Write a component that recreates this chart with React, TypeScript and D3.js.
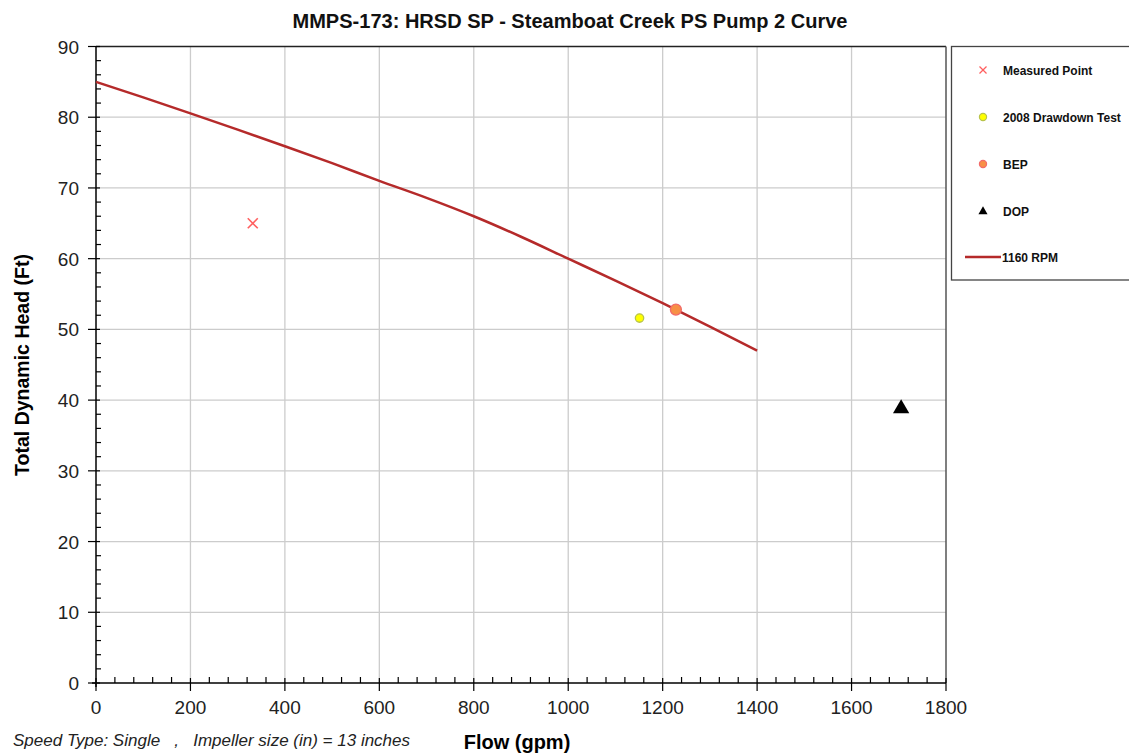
import React from "react";
import * as d3 from "d3";

const curveFlow = [0, 100, 200, 300, 400, 500, 600, 700, 800, 900, 1000, 1100, 1200, 1300, 1400];
const curveHead = [85, 82.8, 80.55, 78.25, 75.9, 73.5, 71.0, 68.6, 66.0, 63.1, 60.0, 56.9, 53.7, 50.4, 47.0];
const measuredPoint = [{ flow: 332, head: 65.0 }];
const drawdownTest = [{ flow: 1151, head: 51.6 }];
const bep = [{ flow: 1228, head: 52.8 }];
const dop = [{ flow: 1705, head: 38.8 }];
const xTicks = [0, 200, 400, 600, 800, 1000, 1200, 1400, 1600, 1800];
const yTicks = [0, 10, 20, 30, 40, 50, 60, 70, 80, 90];
const legendLabels = ["Measured Point", "2008 Drawdown Test", "BEP", "DOP", "1160 RPM"];

const W = 1129;
const H = 755;
const L = 96, R = 946, T = 46.5, B = 683;

export default function App() {
  const x = d3.scaleLinear().domain([0, 1800]).range([L, R]);
  const y = d3.scaleLinear().domain([0, 90]).range([B, T]);
  const xMinor = d3.range(0, 1801, 40).filter((v) => v % 200 !== 0);
  const yMinor = d3.range(0, 91, 2).filter((v) => v % 10 !== 0);
  const line = d3
    .line<number>()
    .x((_, i) => x(curveFlow[i]))
    .y((d) => y(d))
    .curve(d3.curveMonotoneX);
  const font = "'Liberation Sans', Arial, sans-serif";
  const tri = (s: number) => d3.symbol().type(d3.symbolTriangle).size(s)() as string;
  const legY = [70, 117, 164, 211, 257];
  const lx = 983;
  return (
    <svg width={W} height={H} style={{ position: "absolute", left: 0, top: 0, background: "#fff" }} fontFamily={font}>
      <rect x={0} y={0} width={W} height={H} fill="#fff" />
      <text x={570} y={28} textAnchor="middle" fontWeight="bold" fontSize={20} fill="#111" textLength={555} lengthAdjust="spacingAndGlyphs">
        MMPS-173: HRSD SP - Steamboat Creek PS Pump 2 Curve
      </text>
      {/* grid */}
      {xTicks.slice(1, -1).map((t) => (
        <line key={"gx" + t} x1={x(t)} x2={x(t)} y1={T} y2={B} stroke="#cccccc" strokeWidth={1.3} />
      ))}
      {yTicks.slice(1, -1).map((t) => (
        <line key={"gy" + t} x1={L} x2={R} y1={y(t)} y2={y(t)} stroke="#cccccc" strokeWidth={1.3} />
      ))}
      {/* frame */}
      <line x1={L} x2={R} y1={T} y2={T} stroke="#222" strokeWidth={1.3} />
      <line x1={R} x2={R} y1={T} y2={B} stroke="#555" strokeWidth={1.5} />
      <line x1={L} x2={L} y1={T} y2={B + 4} stroke="#000" strokeWidth={1.5} />
      <line x1={L - 4} x2={R} y1={B} y2={B} stroke="#000" strokeWidth={1.5} />
      {/* y ticks */}
      {yTicks.map((t) => (
        <g key={"yt" + t}>
          <line x1={L - 8} x2={L + 4} y1={y(t)} y2={y(t)} stroke="#000" strokeWidth={1.2} />
          <text x={79} y={y(t) + 7} textAnchor="end" fontSize={19} fill="#222">
            {t}
          </text>
        </g>
      ))}
      {yMinor.map((t) => (
        <line key={"ym" + t} x1={L} x2={L + 5} y1={y(t)} y2={y(t)} stroke="#000" strokeWidth={1.2} />
      ))}
      {/* x ticks */}
      {xTicks.map((t) => (
        <g key={"xt" + t}>
          <line x1={x(t)} x2={x(t)} y1={B - 5} y2={B + 8} stroke="#000" strokeWidth={1.2} />
          <text x={x(t)} y={714} textAnchor="middle" fontSize={19} fill="#222">
            {t}
          </text>
        </g>
      ))}
      {xMinor.map((t) => (
        <line key={"xm" + t} x1={x(t)} x2={x(t)} y1={B - 6} y2={B} stroke="#000" strokeWidth={1.2} />
      ))}
      {/* axis titles */}
      <text transform={`translate(29,365) rotate(-90)`} textAnchor="middle" fontWeight="bold" fontSize={19.5} fill="#000">
        Total Dynamic Head (Ft)
      </text>
      <text x={517} y={749} textAnchor="middle" fontWeight="bold" fontSize={20} fill="#000">
        Flow (gpm)
      </text>
      <text x={13} y={746} fontStyle="italic" fontSize={17} fill="#222" style={{ whiteSpace: "pre" }}>
        {"Speed Type: Single   ,   Impeller size (in) = 13 inches"}
      </text>
      {/* curve */}
      <path d={line(curveHead) || ""} fill="none" stroke="#b52a2a" strokeWidth={2.5} />
      {/* markers */}
      {measuredPoint.map((d, i) => (
        <g key={"m" + i} transform={`translate(${x(d.flow)},${y(d.head)})`} stroke="#ff5f5f" strokeWidth={1.6}>
          <line x1={-5} y1={-5} x2={5} y2={5} />
          <line x1={-5} y1={5} x2={5} y2={-5} />
        </g>
      ))}
      {drawdownTest.map((d, i) => (
        <circle key={"d" + i} cx={x(d.flow)} cy={y(d.head)} r={4.2} fill="#ffff00" stroke="#b8c34a" strokeWidth={1.3} />
      ))}
      {bep.map((d, i) => (
        <circle key={"b" + i} cx={x(d.flow)} cy={y(d.head)} r={5.5} fill="#f79046" stroke="#f26a6a" strokeWidth={1.3} />
      ))}
      {dop.map((d, i) => (
        <path key={"p" + i} transform={`translate(${x(d.flow)},${y(d.head)})`} d={tri(115)} fill="#000" />
      ))}
      {/* legend */}
      <rect x={951.5} y={46.5} width={200} height={233.5} fill="#fff" stroke="#444" strokeWidth={1.3} />
      <g transform={`translate(${lx},${legY[0]})`} stroke="#ff5f5f" strokeWidth={1.3}>
        <line x1={-3.5} y1={-3.5} x2={3.5} y2={3.5} />
        <line x1={-3.5} y1={3.5} x2={3.5} y2={-3.5} />
      </g>
      <circle cx={lx} cy={legY[1]} r={3.6} fill="#ffff00" stroke="#b8c34a" strokeWidth={1.2} />
      <circle cx={lx} cy={legY[2]} r={3.6} fill="#f79046" stroke="#f26a6a" strokeWidth={1.2} />
      <path transform={`translate(${lx},${legY[3] + 0.5})`} d={tri(36)} fill="#000" />
      <line x1={965} x2={1001} y1={legY[4]} y2={legY[4]} stroke="#b52a2a" strokeWidth={2.5} />
      {legendLabels.map((lab, i) => (
        <text key={lab} x={i === 4 ? 1002 : 1003} y={legY[i] + 4.5} fontSize={12} fontWeight="bold" fill="#111">
          {lab}
        </text>
      ))}
    </svg>
  );
}
